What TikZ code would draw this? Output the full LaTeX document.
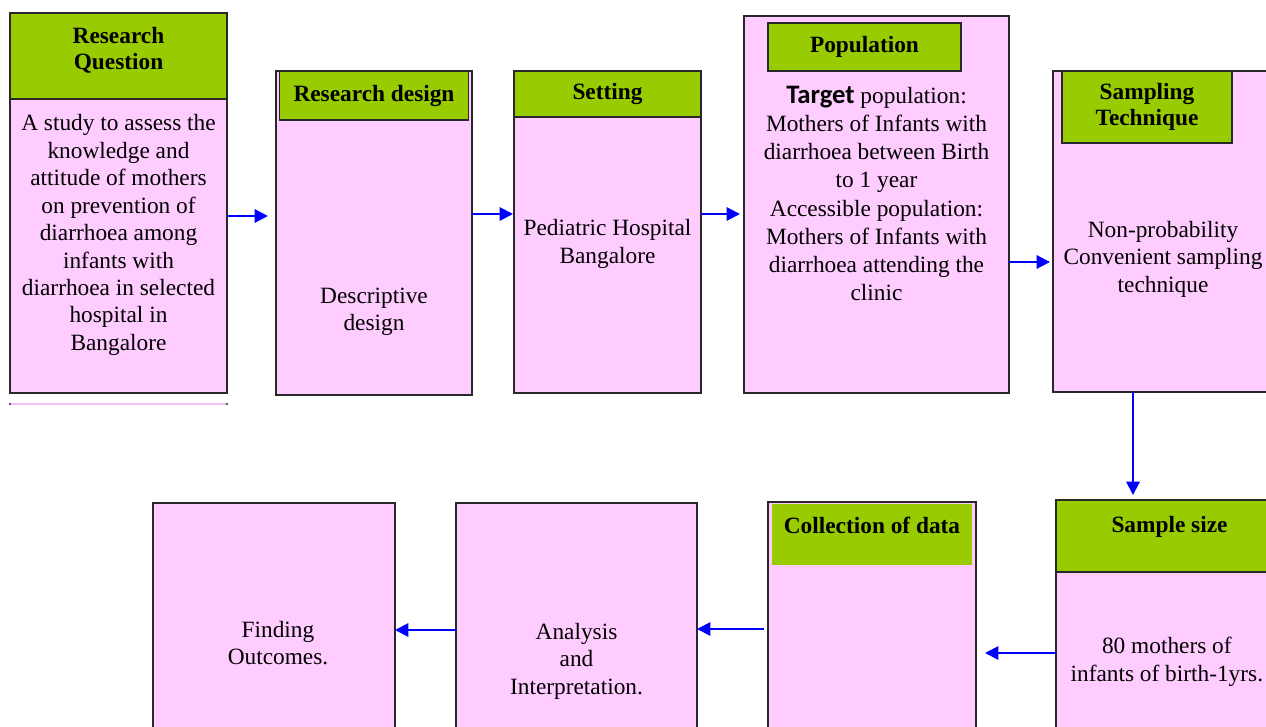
\documentclass[tikz,border=0pt]{standalone}
\usepackage{fontspec}
\setmainfont{Liberation Serif}
\newfontfamily\calibri{Carlito}
\usetikzlibrary{positioning,arrows.meta}

\definecolor{boxpink}{RGB}{255,204,255}
\definecolor{headgreen}{RGB}{153,204,0}
\definecolor{edgegray}{RGB}{40,40,40}
\definecolor{rulepink}{RGB}{248,190,248}

\tikzset{
  stage/.style={draw=edgegray, fill=boxpink, line width=1.2pt, inner sep=0pt, outer sep=0pt, anchor=north west},
  heading/.style={draw=edgegray, fill=headgreen, line width=1.2pt, inner sep=0pt, outer sep=0pt, align=center,
    font=\bfseries\fontsize{17.5}{19.5}\selectfont},
  bodytext/.style={align=center, inner sep=0pt, font=\fontsize{17.5}{20.6}\selectfont},
  flow/.style={draw=blue, line width=1.5pt, -{Triangle[length=10pt,width=10pt]}},
}

\begin{document}
\begin{tikzpicture}
  \useasboundingbox (0,0) rectangle (949.5pt,-545.25pt);
  \clip (0,0) rectangle (949.5pt,-545.25pt);
  % Define stage boxes, top row
  \node[stage, minimum width=162.75pt, minimum height=285pt] (rq) at (7.5pt,-9.75pt) {};
  \node[stage, minimum width=147pt, minimum height=243pt, right=36.75pt of rq.north east, anchor=north west, yshift=-43.5pt] (design) {};
  \node[stage, minimum width=140.25pt, minimum height=241.5pt, right=31.5pt of design.north east, anchor=north west] (setting) {};
  \node[stage, minimum width=198.75pt, minimum height=282.75pt, right=32.25pt of setting.north east, anchor=north west, yshift=41.25pt] (pop) {};
  \node[stage, minimum width=170.25pt, minimum height=240.75pt, right=33pt of pop.north east, anchor=north west, yshift=-41.25pt] (samp) {};
  % bottom row, right to left
  \node[stage, minimum width=170.25pt, minimum height=180pt, below=81pt of samp.south west, anchor=north west, xshift=2.25pt] (ssize) {};
  \node[stage, minimum width=156pt, minimum height=180pt, left=60pt of ssize.north west, anchor=north east, yshift=-1.5pt] (collect) {};
  \node[stage, minimum width=180.75pt, minimum height=180pt, left=53.25pt of collect.north west, anchor=north east, yshift=-0.75pt] (analysis) {};
  \node[stage, minimum width=181.5pt, minimum height=180pt, left=45.75pt of analysis.north west, anchor=north east] (finding) {};
  % headings
  \node[heading, minimum width=162.75pt, minimum height=64.5pt, text depth=12pt, below=0pt of rq.north] (rqhead) {Research\\Question};
  \node[heading, minimum width=141.75pt, minimum height=36.75pt, below=0pt of design.north] (designhead) {Research design};
  \node[heading, minimum width=140.25pt, minimum height=34.5pt, below=0pt of setting.north] (settinghead) {Setting};
  \node[heading, minimum width=144.75pt, minimum height=36pt, below right=5.25pt and 18pt of pop.north west] (pophead) {Population};
  \node[heading, minimum width=127.5pt, minimum height=54pt, right=6.75pt of samp.north west, anchor=north west] (samphead) {Sampling\\Technique};
  \node[heading, minimum width=170.25pt, minimum height=54pt, text depth=17pt, below=0pt of ssize.north] (ssizehead) {Sample size};
  \node[heading, draw=none, minimum width=150pt, minimum height=45.75pt, text depth=14pt, below right=1.5pt and 3pt of collect.north west] (collecthead) {Collection of data};
  % box contents
  \node[bodytext, yshift=-24pt] (rqtext) at (rq.center) {A study to assess the\\knowledge and\\attitude of mothers\\on prevention of\\diarrhoea among\\infants with\\diarrhoea in selected\\hospital in\\Bangalore};
  \node[bodytext, yshift=-59.25pt] (designtext) at (design.center) {Descriptive\\design};
  \node[bodytext, yshift=-9pt] (settingtext) at (setting.center) {Pediatric Hospital\\Bangalore};
  \node[bodytext, font=\fontsize{17.5}{21.1}\selectfont, yshift=8.25pt] (poptext) at (pop.center)
    {{\calibri\bfseries\fontsize{20}{21.1}\selectfont Target} population:\\Mothers of Infants with\\diarrhoea between Birth\\to 1 year\\Accessible population:\\Mothers of Infants with\\diarrhoea attending\ the\\clinic};
  \node[bodytext, xshift=-2.6pt, yshift=-20.6pt] (samptext) at (samp.center) {Non-probability\\Convenient sampling\\technique};
  \node[bodytext, xshift=-2pt, yshift=-31.5pt] (ssizetext) at (ssize.center) {80 mothers of\\infants of birth-1yrs.};
  \node[bodytext, yshift=-28.5pt] (analysistext) at (analysis.center) {Analysis\\and\\Interpretation.};
  \node[bodytext, xshift=3pt, yshift=-15pt] (findingtext) at (finding.center) {Finding\\Outcomes.};
  % rule under the first box
  \draw[rulepink, line width=1.2pt] ([yshift=-8.25pt]rq.south west) -- ([yshift=-8.25pt]rq.south east);
  \fill[edgegray] ([yshift=-8.25pt]rq.south west) circle (0.8pt) ([yshift=-8.25pt]rq.south east) circle (0.8pt);
  % connect the stages
  \draw[flow, shorten >=6pt] ([yshift=-9.75pt]rq.east) -- ([yshift=12.75pt]design.west);
  \draw[flow, shorten >=0.75pt] ([yshift=14.25pt]design.east) -- ([yshift=13.5pt]setting.west);
  \draw[flow, shorten >=3pt] ([yshift=13.5pt]setting.east) -- ([yshift=-7.125pt]pop.west);
  \draw[flow, shorten >=2.25pt] ([yshift=-43.125pt]pop.east) -- ([yshift=-22.875pt]samp.west);
  \draw[flow, shorten >=3.75pt] ([xshift=60pt]samp.south west) -- ([xshift=57.75pt]ssize.north west);
  \draw[flow, shorten >=6.75pt] ([yshift=-24.75pt]ssize.west) -- ([yshift=-23.25pt]collect.east);
  \draw[flow, shorten <=3pt] ([yshift=-5.25pt]collect.west) -- ([yshift=-4.5pt]analysis.east);
  \draw[flow] ([yshift=-5.25pt]analysis.west) -- ([yshift=-5.25pt]finding.east);
\end{tikzpicture}
\end{document}
